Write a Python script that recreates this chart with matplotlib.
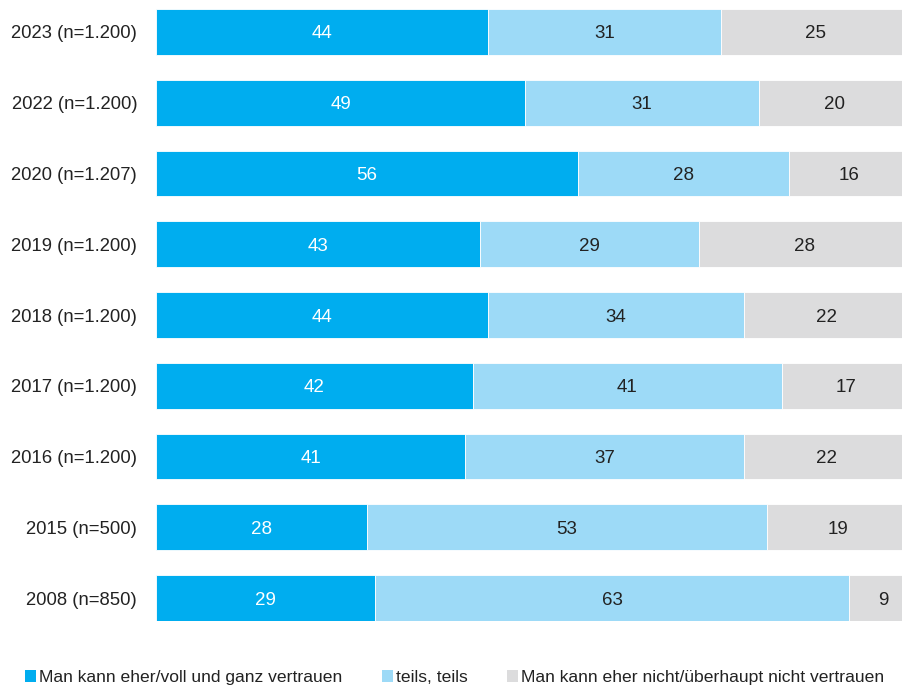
import matplotlib.pyplot as plt
import numpy as np
from matplotlib.patches import Rectangle

plt.rcParams['font.family'] = ['Liberation Sans', 'DejaVu Sans']

years = ['2023 (n=1.200)', '2022 (n=1.200)', '2020 (n=1.207)', '2019 (n=1.200)',
         '2018 (n=1.200)', '2017 (n=1.200)', '2016 (n=1.200)', '2015 (n=500)', '2008 (n=850)']
trust = [44, 49, 56, 43, 44, 42, 41, 28, 29]
partly = [31, 31, 28, 29, 34, 41, 37, 53, 63]
no_trust = [25, 20, 16, 28, 22, 17, 22, 19, 9]

series = ['Man kann eher/voll und ganz vertrauen', 'teils, teils',
          'Man kann eher nicht/überhaupt nicht vertrauen']
colors = ['#00adef', '#9ddaf7', '#dcdcdd']
text_colors = ['white', '#222222', '#222222']

fig = plt.figure(figsize=(9.03, 6.89), dpi=100)
ax = fig.add_axes([156 / 903, 1 - 621 / 689, 747 / 903, 612 / 689])

y = np.arange(len(years))
left = np.zeros(len(years))
for vals, col, tcol in zip([trust, partly, no_trust], colors, text_colors):
    vals = np.array(vals, dtype=float)
    ax.barh(y, vals, left=left, height=0.65, color=col, edgecolor='white', linewidth=0.6)
    for yi, l, v in zip(y, left, vals):
        ax.text(l + v / 2, yi, f'{int(v)}', ha='center', va='center_baseline',
                color=tcol, fontsize=13.5)
    left += vals

ax.set_xlim(0, 99.1)
ax.set_ylim(len(years) - 1 + 0.325, -0.325)
ax.set_yticks(y)
ax.set_yticklabels(years, fontsize=13.3, color='#222222')
ax.tick_params(axis='y', length=0, pad=13.5)
ax.set_xticks([])
for s in ax.spines.values():
    s.set_visible(False)

# legend row along the bottom edge
legend_x = [25, 382, 507]
legend_y = 676
for x0, lab, col in zip(legend_x, series, colors):
    fig.add_artist(Rectangle((x0 / 903, 1 - (legend_y + 6) / 689), 11 / 903, 12 / 689,
                             transform=fig.transFigure, facecolor=col, edgecolor='none'))
    fig.text((x0 + 14) / 903, 1 - legend_y / 689, lab, ha='left', va='center_baseline',
             fontsize=12.6, color='#222222')

fig.savefig('out.png', dpi=100)
